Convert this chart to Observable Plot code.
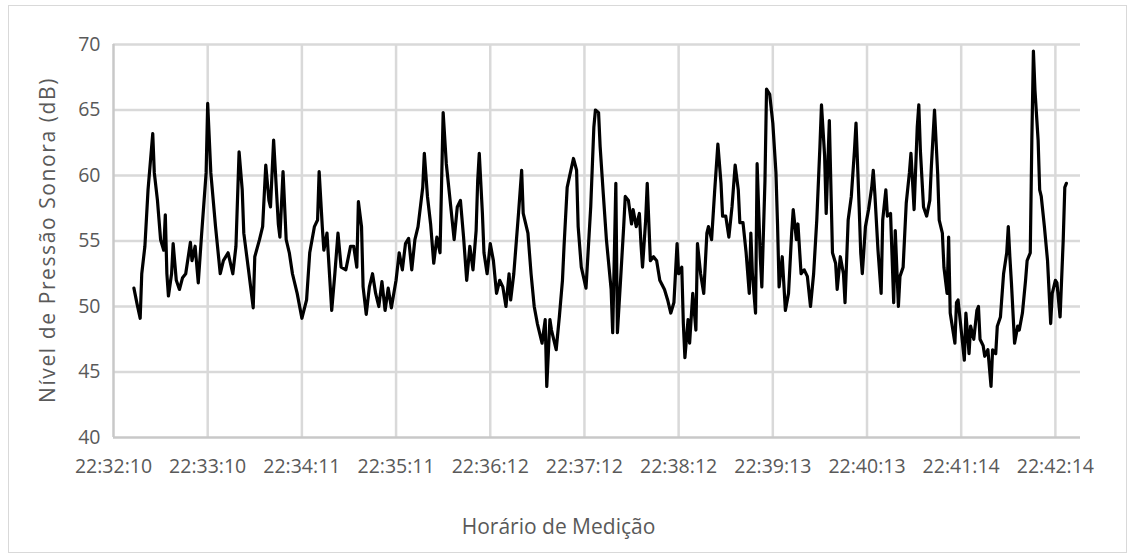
<!DOCTYPE html>
<html><head><meta charset="utf-8">
<script src="https://cdn.jsdelivr.net/npm/d3@7"></script>
<script src="https://cdn.jsdelivr.net/npm/@observablehq/plot@0.6"></script>
<style>
body{margin:0;background:#fff;font-family:"Open Sans",sans-serif;}
#frame{position:absolute;left:8px;top:5px;width:1119px;height:548px;border:1px solid #d9d9d9;box-sizing:border-box;}
#chart{position:absolute;left:0;top:0;}
#xtitle{position:absolute;left:0;width:1117px;top:512px;text-align:center;font-size:21px;color:#595959;}
#ytitle{position:absolute;left:47px;top:240px;transform:translate(-50%,-50%) rotate(-90deg);white-space:nowrap;font-size:21px;letter-spacing:1.6px;color:#595959;}
</style></head><body>
<div id="frame"></div>
<div id="chart"></div>
<div id="xtitle">Horário de Medição</div>
<div id="ytitle">Nível de Pressão Sonora (dB)</div>
<script>
const tickLabels = ["22:32:10","22:33:10","22:34:11","22:35:11","22:36:12","22:37:12","22:38:12","22:39:13","22:40:13","22:41:14","22:42:14"];
const yTicks = [40,45,50,55,60,65,70];
// seconds elapsed since 22:32:10
const seconds = [13,15,17,18,20,22,25,26,28,30,32,33,34,35,37,38,40,42,44,46,49,50,52,54,56,59,60,62,65,68,70,73,
76,78,80,82,83,86,89,90,93,95,97,99,100,102,105,106,108,110,112,114,117,120,123,125,128,130,131,133,134,136,139,141,143,145,148,151,
153,155,156,158,159,161,163,165,167,169,171,173,175,177,180,182,184,186,188,190,192,194,197,198,200,202,204,206,208,210,212,214,217,219,221,223,225,227,
229,231,232,233,235,236,238,240,242,244,246,248,250,252,253,255,258,260,261,264,266,268,270,273,275,276,278,279,282,284,286,287,289,291,293,295,296,298,301,
304,306,307,309,310,312,314,317,318,320,321,323,325,326,328,330,331,333,335,336,337,339,340,342,344,346,348,351,353,355,357,359,360,362,363,364,366,367,369,371,372,374,376,378,379,
381,383,385,387,388,390,392,394,396,398,399,401,403,405,406,407,409,410,412,413,415,416,418,420,422,423,424,426,428,430,432,433,435,436,438,440,442,444,446,448,450,451,453,454,456,
458,460,461,463,465,466,468,470,472,473,475,476,477,479,481,483,484,485,487,489,490,492,493,495,497,498,500,501,503,505,507,508,510,512,513,514,516,518,520,521,523,525,526,528,529,531,532,533,
536,537,538,540,542,543,545,546,548,550,551,552,554,555,557,559,560,562,563,565,567,569,570,571,572,574,576,577,579,581,582,584,585,586,587,589,590,591,593,595,597,598,600,601,603,605,606,607];
const levels = [51.4,50.2,49.1,52.5,54.6,58.9,63.2,60.2,58.1,55.1,54.3,57.0,52.5,50.8,52.5,54.8,52.0,51.3,52.2,52.5,54.9,53.5,54.6,51.8,55.3,60.2,65.5,60.2,56.1,52.5,53.5,54.1,
52.5,54.6,61.8,58.9,55.6,52.8,49.9,53.8,55.1,56.1,60.8,58.1,57.6,62.7,56.3,55.3,60.3,55.1,54.1,52.5,51.0,49.1,50.5,54.1,56.1,56.6,60.3,56.1,54.3,55.6,49.7,52.5,55.6,53.0,52.8,54.6,
54.6,53.0,58.0,56.1,51.5,49.4,51.5,52.5,51.0,50.0,51.9,49.7,51.4,49.9,52.0,54.1,52.8,54.8,55.2,52.8,55.1,56.1,59.1,61.7,58.4,56.3,53.3,55.3,54.1,64.8,60.9,58.6,55.1,57.6,58.1,55.3,52.0,54.6,
52.8,55.8,59.6,61.7,57.1,54.1,52.5,54.8,53.5,51.0,52.0,51.5,50.0,52.5,50.5,52.5,57.1,60.4,57.1,55.6,52.5,50.0,48.7,47.2,49.0,43.9,49.0,48.2,46.7,49.2,52.0,54.6,59.1,60.2,61.3,60.4,56.1,53.0,51.4,
57.6,63.7,65.0,64.8,62.2,58.6,55.1,51.3,48.0,59.4,48.0,52.0,56.1,58.4,58.1,56.3,57.4,56.1,57.1,54.8,53.0,56.6,59.4,53.5,53.8,53.5,52.0,51.3,50.5,49.5,50.3,54.8,52.5,53.0,48.7,46.1,49.0,47.2,51.0,48.2,54.8,52.5,51.0,55.6,56.1,
55.1,58.9,62.4,59.4,56.9,56.9,55.3,57.6,60.8,58.9,56.4,56.4,54.1,51.0,55.6,52.5,49.5,60.9,53.8,51.5,59.6,66.6,66.2,64.0,60.2,56.3,51.5,53.8,49.7,51.0,55.6,57.4,55.1,56.3,52.5,52.8,52.3,50.0,52.5,56.6,62.2,65.4,61.5,57.1,64.2,
54.1,53.3,51.3,53.8,52.5,50.3,56.6,58.4,61.9,64.0,57.6,54.1,52.5,56.1,57.4,59.1,60.4,58.6,54.3,51.0,56.6,58.9,56.9,57.1,50.3,55.8,50.0,52.3,53.0,57.9,60.2,61.7,57.4,63.7,65.4,61.9,57.6,56.9,58.1,60.7,65.0,60.2,56.6,55.6,53.0,51.0,55.3,49.5,
47.2,50.3,50.5,48.2,45.9,49.5,46.4,48.5,47.5,49.7,50.0,47.5,47.0,46.2,46.7,43.9,46.7,46.4,48.5,49.2,52.5,54.1,56.1,53.8,51.8,47.2,48.5,48.2,49.5,52.0,53.5,54.1,62.7,69.5,66.5,62.7,58.9,58.4,56.1,53.5,48.7,51.0,52.0,51.8,49.2,55.1,59.1,59.4];

const data = seconds.map((t, i) => ({t, v: levels[i]}));
const xTickPos = tickLabels.map((_, i) => i * 60);

const chart = Plot.plot({
  width: 1136, height: 558,
  marginLeft: 113, marginTop: 44, marginRight: 56, marginBottom: 121,
  style: {fontFamily: "Open Sans", fontSize: "19.5px", color: "#595959", background: "transparent", overflow: "visible"},
  x: {domain: [0, 616], ticks: xTickPos, tickFormat: d => tickLabels[Math.round(d / 60)], tickSize: 0, tickPadding: 22, label: null},
  y: {domain: [40, 70], ticks: yTicks, tickSize: 0, tickPadding: 13, label: null},
  marks: [
    Plot.gridX(xTickPos.slice(1), {stroke: "#d9d9d9", strokeOpacity: 1, strokeWidth: 2.5}),
    Plot.gridY(yTicks.slice(1), {stroke: "#d9d9d9", strokeOpacity: 1, strokeWidth: 2.5}),
    Plot.ruleX([0], {stroke: "#c8c8c8", strokeWidth: 2.5}),
    Plot.ruleY([40], {stroke: "#c8c8c8", strokeWidth: 2.5}),
    Plot.line(data, {x: "t", y: "v", stroke: "#000", strokeWidth: 3.2, strokeLinejoin: "round"})
  ]
});
document.getElementById("chart").appendChild(chart);
</script>
</body></html>
